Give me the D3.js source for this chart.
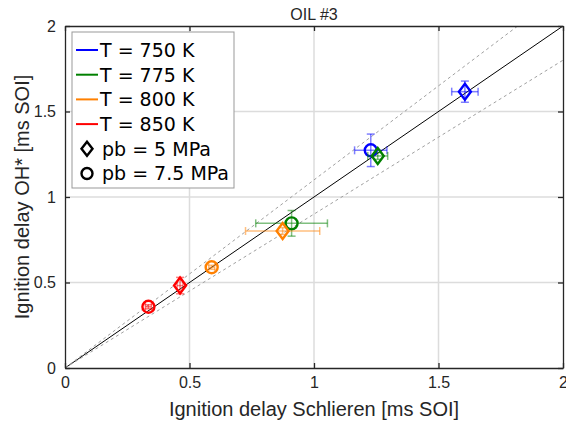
<!DOCTYPE html>
<html>
<head>
<meta charset="utf-8">
<script src="https://cdn.jsdelivr.net/npm/d3@7"></script>
<style>
  html, body { margin: 0; padding: 0; background: #fff; }
  svg { display: block; }
  text { font-family: "Liberation Sans", Arial, sans-serif; fill: #262626; }
</style>
</head>
<body>
<svg id="chart" width="566" height="427"></svg>
<script>
// Ignition delay: OH* chemiluminescence vs Schlieren, oil #3
const temperatures = [750, 775, 800, 850];
const temperatureLabels = ["T = 750 K", "T = 775 K", "T = 800 K", "T = 850 K"];
const temperatureColors = ["#0000ff", "#008000", "#ff8000", "#ff0000"];
const pressures = [5, 7.5];
const pressureLabels = ["pb = 5 MPa", "pb = 7.5 MPa"];

// measurement points (ms after start of injection)
const pointTemperature = [750, 750, 775, 775, 800, 800, 850, 850];
const pointPressure    = [5, 7.5, 5, 7.5, 5, 7.5, 5, 7.5];
const schlieren        = [1.606, 1.228, 1.256, 0.910, 0.874, 0.589, 0.462, 0.335];
const schlierenErr     = [0.053, 0.065, 0.040, 0.144, 0.149, 0.012, 0.012, 0.012];
const ohStar           = [1.616, 1.273, 1.240, 0.846, 0.801, 0.589, 0.482, 0.358];
const ohStarErr        = [0.062, 0.095, 0.020, 0.075, 0.020, 0.012, 0.048, 0.012];

// reference lines: parity and +/-10 %
const referenceSlopes = [1, 1.1, 0.9];

const ticks = [0, 0.5, 1, 1.5, 2];

const svg = d3.select("#chart");
const m = { left: 65, right: 563, top: 26, bottom: 368 };

const x = d3.scaleLinear().domain([0, 2]).range([m.left, m.right]);
const y = d3.scaleLinear().domain([0, 2]).range([m.bottom, m.top]);
const color = d3.scaleOrdinal().domain(temperatures).range(temperatureColors);

const axisColor = "#262626";

// grid
const grid = svg.append("g");
grid.selectAll(".gx").data(ticks.slice(1, -1)).join("line")
  .attr("x1", d => x(d)).attr("x2", d => x(d))
  .attr("y1", y(0)).attr("y2", y(2))
  .attr("stroke", "#dcdcdc").attr("stroke-width", 1.5);
grid.selectAll(".gy").data(ticks.slice(1, -1)).join("line")
  .attr("y1", d => y(d)).attr("y2", d => y(d))
  .attr("x1", x(0)).attr("x2", x(2))
  .attr("stroke", "#dcdcdc").attr("stroke-width", 1.5);

// clip for reference lines
svg.append("clipPath").attr("id", "plotClip").append("rect")
  .attr("x", m.left).attr("y", m.top)
  .attr("width", m.right - m.left).attr("height", m.bottom - m.top);

const refs = svg.append("g").attr("clip-path", "url(#plotClip)");
referenceSlopes.forEach((s, i) => {
  const xEnd = Math.min(2, 2 / s);
  refs.append("line")
    .attr("x1", x(0)).attr("y1", y(0))
    .attr("x2", x(xEnd)).attr("y2", y(xEnd * s))
    .attr("stroke", i === 0 ? "#000" : "#a0a0a0")
    .attr("stroke-width", 1)
    .attr("stroke-dasharray", i === 0 ? null : "3,3");
});

// axes (box with inward ticks on all sides)
const tickLen = 5;
const axBottom = d3.axisBottom(x).tickValues(ticks).tickSizeInner(-tickLen).tickSizeOuter(0).tickPadding(9).tickFormat(d3.format("~g"));
const axLeft = d3.axisLeft(y).tickValues(ticks).tickSizeInner(-tickLen).tickSizeOuter(0).tickPadding(9).tickFormat(d3.format("~g"));
const axTop = d3.axisTop(x).tickValues(ticks).tickSizeInner(-tickLen).tickSizeOuter(0).tickFormat("");
const axRight = d3.axisRight(y).tickValues(ticks).tickSizeInner(-tickLen).tickSizeOuter(0).tickFormat("");

function styleAxis(g) {
  g.select(".domain").attr("stroke", axisColor).attr("stroke-width", 1.3);
  g.selectAll(".tick line").attr("stroke", axisColor).attr("stroke-width", 1.3);
  g.selectAll(".tick text").attr("fill", axisColor)
    .style("font-family", "'Liberation Sans', Arial, sans-serif").style("font-size", "16px");
}
svg.append("g").attr("transform", `translate(0,${m.bottom})`).call(axBottom).call(styleAxis);
svg.append("g").attr("transform", `translate(${m.left},0)`).call(axLeft).call(styleAxis);
svg.append("g").attr("transform", `translate(0,${m.top})`).call(axTop).call(styleAxis);
svg.append("g").attr("transform", `translate(${m.right},0)`).call(axRight).call(styleAxis);

// error bars and markers
const capHalf = 4;
const points = schlieren.map((v, i) => ({
  T: pointTemperature[i], pb: pointPressure[i],
  x: v, xe: schlierenErr[i], y: ohStar[i], ye: ohStarErr[i]
}));

const diamond = (hw, hh) => `M0,${-hh}L${hw},0L0,${hh}L${-hw},0Z`;
const markerW = 2.4;

const pts = svg.append("g");
points.forEach(p => {
  const c = color(p.T);
  const g = pts.append("g");
  const eb = g.append("g").attr("stroke", c).attr("stroke-opacity", 0.5).attr("stroke-width", 1.5);
  // vertical
  eb.append("line").attr("x1", x(p.x)).attr("x2", x(p.x)).attr("y1", y(p.y - p.ye)).attr("y2", y(p.y + p.ye));
  eb.append("line").attr("x1", x(p.x) - capHalf).attr("x2", x(p.x) + capHalf).attr("y1", y(p.y - p.ye)).attr("y2", y(p.y - p.ye));
  eb.append("line").attr("x1", x(p.x) - capHalf).attr("x2", x(p.x) + capHalf).attr("y1", y(p.y + p.ye)).attr("y2", y(p.y + p.ye));
  // horizontal
  eb.append("line").attr("y1", y(p.y)).attr("y2", y(p.y)).attr("x1", x(p.x - p.xe)).attr("x2", x(p.x + p.xe));
  eb.append("line").attr("y1", y(p.y) - capHalf).attr("y2", y(p.y) + capHalf).attr("x1", x(p.x - p.xe)).attr("x2", x(p.x - p.xe));
  eb.append("line").attr("y1", y(p.y) - capHalf).attr("y2", y(p.y) + capHalf).attr("x1", x(p.x + p.xe)).attr("x2", x(p.x + p.xe));
  // marker
  if (p.pb === 5) {
    g.append("path").attr("d", diamond(6, 8))
      .attr("transform", `translate(${x(p.x)},${y(p.y)})`)
      .attr("fill", "none").attr("stroke", c).attr("stroke-width", markerW);
  } else {
    g.append("circle").attr("cx", x(p.x)).attr("cy", y(p.y)).attr("r", 6)
      .attr("fill", "none").attr("stroke", c).attr("stroke-width", markerW);
  }
});

// title and axis labels
svg.append("text").attr("x", (m.left + m.right) / 2).attr("y", 20)
  .attr("text-anchor", "middle").style("font-size", "16px").text("OIL #3");
svg.append("text").attr("x", (m.left + m.right) / 2).attr("y", 416)
  .attr("text-anchor", "middle").style("font-size", "20px").text("Ignition delay Schlieren [ms SOI]");
svg.append("text").attr("transform", `translate(29,${(m.top + m.bottom) / 2}) rotate(-90)`)
  .attr("text-anchor", "middle").style("font-size", "20px").text("Ignition delay OH* [ms SOI]");

// legend
const lg = svg.append("g");
lg.append("rect").attr("x", 72).attr("y", 32).attr("width", 162).attr("height", 156)
  .attr("fill", "#fff").attr("stroke", "#999").attr("stroke-width", 1);
const rowY = i => 50 + i * 24.7;
const legendFont = "19px";
temperatureLabels.forEach((t, i) => {
  lg.append("line").attr("x1", 76).attr("x2", 98).attr("y1", rowY(i)).attr("y2", rowY(i))
    .attr("stroke", temperatureColors[i]).attr("stroke-width", 2);
  lg.append("text").attr("x", 100).attr("y", rowY(i)).attr("dy", "0.36em")
    .style("font-family", "'DejaVu Sans', sans-serif").style("font-size", legendFont).style("fill", "#000").text(t);
});
pressureLabels.forEach((t, j) => {
  const yy = rowY(4 + j);
  if (pressures[j] === 5) {
    lg.append("path").attr("d", diamond(5.5, 7)).attr("transform", `translate(87,${yy})`)
      .attr("fill", "none").attr("stroke", "#000").attr("stroke-width", markerW);
  } else {
    lg.append("circle").attr("cx", 87).attr("cy", yy).attr("r", 5.5)
      .attr("fill", "none").attr("stroke", "#000").attr("stroke-width", markerW);
  }
  lg.append("text").attr("x", 102).attr("y", yy).attr("dy", "0.36em")
    .style("font-family", "'DejaVu Sans', sans-serif").style("font-size", legendFont).style("fill", "#000").text(t);
});
</script>
</body>
</html>
